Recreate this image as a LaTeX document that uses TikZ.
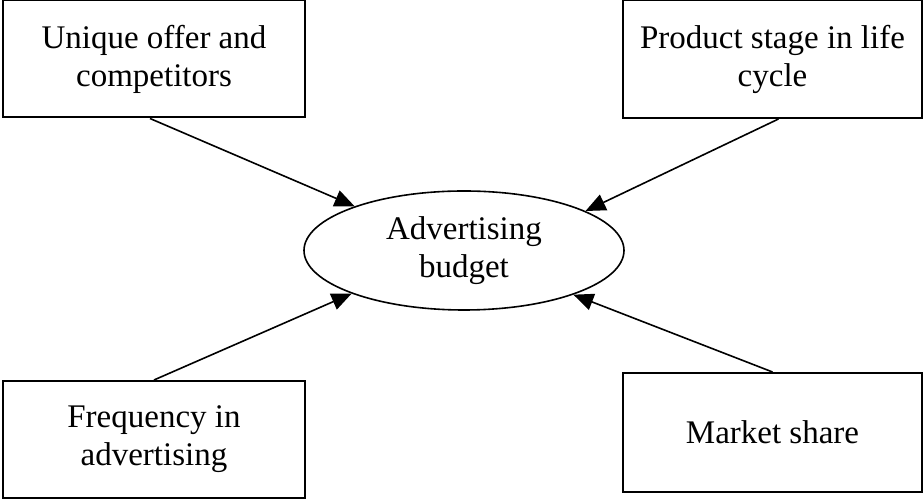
\documentclass[tikz,border=0pt]{standalone}
\usepackage{fontspec}
\setmainfont{Liberation Serif}
\usetikzlibrary{shapes.geometric,arrows.meta}

\tikzset{
  factor/.style={draw, line width=1pt, align=center, minimum width=#1, inner sep=2pt},
  budget/.style={draw, ellipse, line width=0.8pt, align=center, minimum width=160pt, minimum height=59.5pt, inner sep=0pt},
  push/.style={-{Triangle[length=10pt,width=8.5pt]}, line width=0.8pt}
}

\begin{document}
\begin{tikzpicture}[x=0.5pt, y=-0.5pt, font=\fontsize{16.5}{19}\selectfont]
        \useasboundingbox (0,0) rectangle (923,501);

        % Centre ellipse
        \node[budget] (budget) at (464,250.5) {Advertising\\budget};

        % Factor boxes
        \node[factor=151pt, minimum height=58.5pt] (offer) at (154,59) {Unique offer and\\competitors};
        \node[factor=149.5pt, minimum height=59pt] (stage) at (772.5,59) {Product stage in life\\cycle};
        \node[factor=151pt, minimum height=58.5pt] (freq) at (154,439.5) {Frequency in\\advertising};
        \node[factor=149.5pt, minimum height=59.5pt] (share) at (772.5,432.5) {Market share};

        % Arrows into the budget
        \draw[push] ([xshift=-2pt]offer.south) -- (budget.158.8);
        \draw[push] ([xshift=3pt]stage.south) -- (budget.18.9);
        \draw[push] (freq.north) -- (budget.201.8);
        \draw[push] (share.north) -- (budget.338.5);
\end{tikzpicture}
\end{document}
